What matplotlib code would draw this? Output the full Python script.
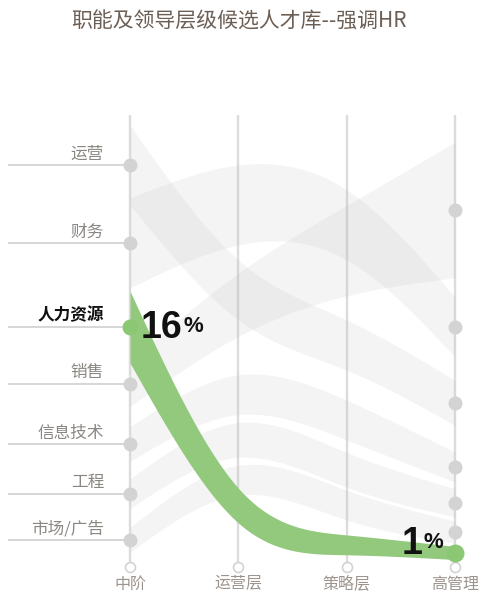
import numpy as np
import matplotlib
matplotlib.use('Agg')
import matplotlib.pyplot as plt
from matplotlib.patches import Rectangle

plt.rcParams['font.family'] = ['Noto Sans CJK SC', 'DejaVu Sans']

# ---------------- data ----------------
title = '职能及领导层级候选人才库--强调HR'
levels = ['中阶', '运营层', '策略层', '高管理']
functions = ['运营', '财务', '人力资源', '销售', '信息技术', '工程', '市场/广告']
highlight = '人力资源'
# position of each function on a 0-100 scale at every level
pos_level0 = [88.9, 71.7, 53.1, 40.5, 27.2, 16.2, 6.0]
pos_level1 = [61.3, 80.1, 13.6, 58.0, 38.1, 28.1, 19.2]
pos_level2 = [49.1, 75.7, 4.9, 70.0, 32.5, 21.5, 13.7]
pos_level3 = [36.3, 53.1, 3.1, 79.0, 22.1, 14.2, 7.7]
# ribbon thickness (share-weighted) at every level
width_level0 = [17.7, 19.9, 15.9, 10.0, 7.7, 6.6, 5.5]
width_level1 = [13.3, 17.7, 7.7, 14.0, 8.8, 7.7, 6.6]
width_level2 = [11.1, 15.5, 4.4, 20.0, 8.8, 7.7, 6.6]
width_level3 = [10.0, 13.3, 2.9, 30.0, 6.6, 6.2, 4.9]
hr_share_start = 16
hr_share_end = 1

# ---------------- helpers ----------------
def smooth(xk, yk, xs):
    """Natural cubic spline through the level values."""
    xk = np.asarray(xk, float); yk = np.asarray(yk, float)
    n = len(xk)
    h = np.diff(xk)
    A = np.zeros((n, n)); r = np.zeros(n)
    A[0, 0] = A[-1, -1] = 1
    for i in range(1, n - 1):
        A[i, i - 1] = h[i - 1]
        A[i, i] = 2 * (h[i - 1] + h[i])
        A[i, i + 1] = h[i]
        r[i] = 6 * ((yk[i + 1] - yk[i]) / h[i] - (yk[i] - yk[i - 1]) / h[i - 1])
    M = np.linalg.solve(A, r)
    idx = np.clip(np.searchsorted(xk, xs) - 1, 0, n - 2)
    x0, x1 = xk[idx], xk[idx + 1]
    hh = x1 - x0
    a = (x1 - xs) / hh; b = (xs - x0) / hh
    return (a * yk[idx] + b * yk[idx + 1] +
            ((a**3 - a) * M[idx] + (b**3 - b) * M[idx + 1]) * hh**2 / 6)

# ---------------- figure ----------------
W, H = 483, 611
fig = plt.figure(figsize=(W / 100, H / 100), dpi=100)
ax = fig.add_axes([0, 0, 1, 1])
PX = 3 / 325.0     # data units per pixel (x)
PY = 100 / 452.0   # data units per pixel (y)
ax.set_xlim(-130 * PX, 3 + 28 * PX)
ax.set_ylim(-44 * PY, 100 + 115 * PY)
ax.axis('off')
pt = 0.72  # points per pixel

nlev = len(levels)
xk = np.arange(nlev)
xs = np.linspace(0, nlev - 1, 500)
clip = Rectangle((0, 0), nlev - 1, 100, transform=ax.transData)

# vertical level lines
ax.vlines(xk, 0.6, 100, color='#dcdcdc', lw=2.4 * pt, zorder=1)

# ribbons
hr_i = functions.index(highlight)
for i, f in enumerate(functions):
    centres = [pos_level0[i], pos_level1[i], pos_level2[i], pos_level3[i]]
    widths = [width_level0[i], width_level1[i], width_level2[i], width_level3[i]]
    c = smooth(xk, centres, xs)
    w = smooth(xk, widths, xs)
    if f == highlight:
        poly = ax.fill_between(xs, c - w / 2, c + w / 2, color='#93c97d', lw=0, zorder=4)
    else:
        poly = ax.fill_between(xs, c - w / 2, c + w / 2, color='#b0b0b0', alpha=0.13,
                               lw=0, zorder=2)
    poly.set_clip_path(clip)

# left guide lines
ax.hlines(pos_level0, -122 * PX, 0, color='#cbcbcb', lw=1.5 * pt, zorder=2)

# nodes
grey_start = [p for j, p in enumerate(pos_level0) if j != hr_i]
grey_end = [p for j, p in enumerate(pos_level3) if j != hr_i]
ax.scatter([0] * len(grey_start), grey_start, s=(14 * pt) ** 2, color='#d3d3d3', lw=0, zorder=3)
ax.scatter([nlev - 1] * len(grey_end), grey_end, s=(14 * pt) ** 2, color='#d3d3d3', lw=0, zorder=3)
ax.scatter([0], [pos_level0[hr_i]], s=(16 * pt) ** 2, color='#8cc874', lw=0, zorder=6)
ax.scatter([nlev - 1], [pos_level3[hr_i]], s=(18 * pt) ** 2, color='#8cc874', lw=0, zorder=6)

# bottom hollow markers
ax.scatter(xk, [0] * nlev, s=(10 * pt) ** 2, facecolor='white', edgecolor='#d2d2d2',
           lw=1.6 * pt, zorder=5)

# function labels
for i, f in enumerate(functions):
    is_hr = f == highlight
    ax.annotate(f, xy=(0, pos_level0[i]), xytext=(-26 * pt, 2.5 * pt),
                textcoords='offset points', ha='right', va='bottom',
                fontsize=12, color='#111111' if is_hr else '#8a8682',
                fontweight='bold' if is_hr else 'normal', zorder=7)

# level labels
for i, lv in enumerate(levels):
    ax.annotate(lv, xy=(i, 0), xytext=(0, -17 * pt), textcoords='offset points',
                ha='center', va='center', fontsize=11.5, color='#9d948d', zorder=7)

# percentage labels
pfont = ['Liberation Sans', 'DejaVu Sans']
ax.annotate(f'{hr_share_start}', xy=(0, pos_level0[hr_i]), xytext=(11 * pt, -11 * pt),
            textcoords='offset points', ha='left', va='baseline', fontsize=27,
            fontweight='bold', family=pfont, color='#111111', zorder=8)
ax.annotate('%', xy=(0, pos_level0[hr_i]), xytext=(53 * pt, -5 * pt),
            textcoords='offset points', ha='left', va='baseline', fontsize=16,
            fontweight='bold', family=pfont, color='#111111', zorder=8)
ax.annotate(f'{hr_share_end}', xy=(nlev - 1, pos_level3[hr_i]), xytext=(-53 * pt, -1 * pt),
            textcoords='offset points', ha='left', va='baseline', fontsize=27,
            fontweight='bold', family=pfont, color='#111111', zorder=8)
ax.annotate('%', xy=(nlev - 1, pos_level3[hr_i]), xytext=(-31 * pt, 5 * pt),
            textcoords='offset points', ha='left', va='baseline', fontsize=16,
            fontweight='bold', family=pfont, color='#111111', zorder=8)

# title
fig.text(239 / W, 1 - 22 / H, title, ha='center', va='center', fontsize=15,
         color='#6b5e55')

fig.savefig('out.png', dpi=100)
